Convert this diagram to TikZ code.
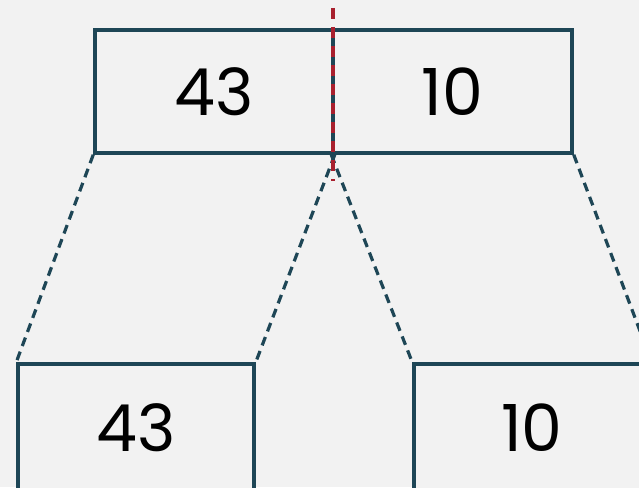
\documentclass[tikz,border=0pt]{standalone}
\usepackage{fontspec}
\setmainfont{Poppins}
\definecolor{bg}{HTML}{F2F2F2}
\definecolor{edge}{HTML}{1E4656}
\definecolor{cut}{HTML}{A8202E}
\begin{document}
\begin{tikzpicture}[x=1pt,y=-1pt,
  cell/.style={draw=edge,line width=3.5pt,fill=bg,inner sep=0pt,minimum height=123pt,font=\fontsize{65}{70}\selectfont,text=black},
  link/.style={draw=edge,line width=3.2pt,dash pattern=on 9pt off 6pt},
  cutline/.style={draw=cut,line width=4pt,dash pattern=on 11pt off 8pt}]
\fill[bg] (0,0) rectangle (639,487);
\useasboundingbox (0,0) rectangle (639,487);
\clip (0,0) rectangle (639,487);
\node[cell,minimum width=238pt] (tl) at (214,91.5) {43};
\node[cell,minimum width=239pt] (tr) at (452.5,91.5) {10};
\node[cell,minimum width=236pt,minimum height=128pt] (bl) at (136,428) {43};
\node[cell,minimum width=236pt,minimum height=128pt] (br) at (532,428) {10};
\draw[link] (tl.south west) -- (bl.north west);
\draw[link] (tl.south east) -- (bl.north east);
\draw[link] (tr.south west) -- (br.north west);
\draw[link] (tr.south east) -- (br.north east);
\coordinate (ct) at (333,8);
\coordinate (cb) at (333,181);
\draw[cutline] (ct) -- (cb);
\end{tikzpicture}
\end{document}
